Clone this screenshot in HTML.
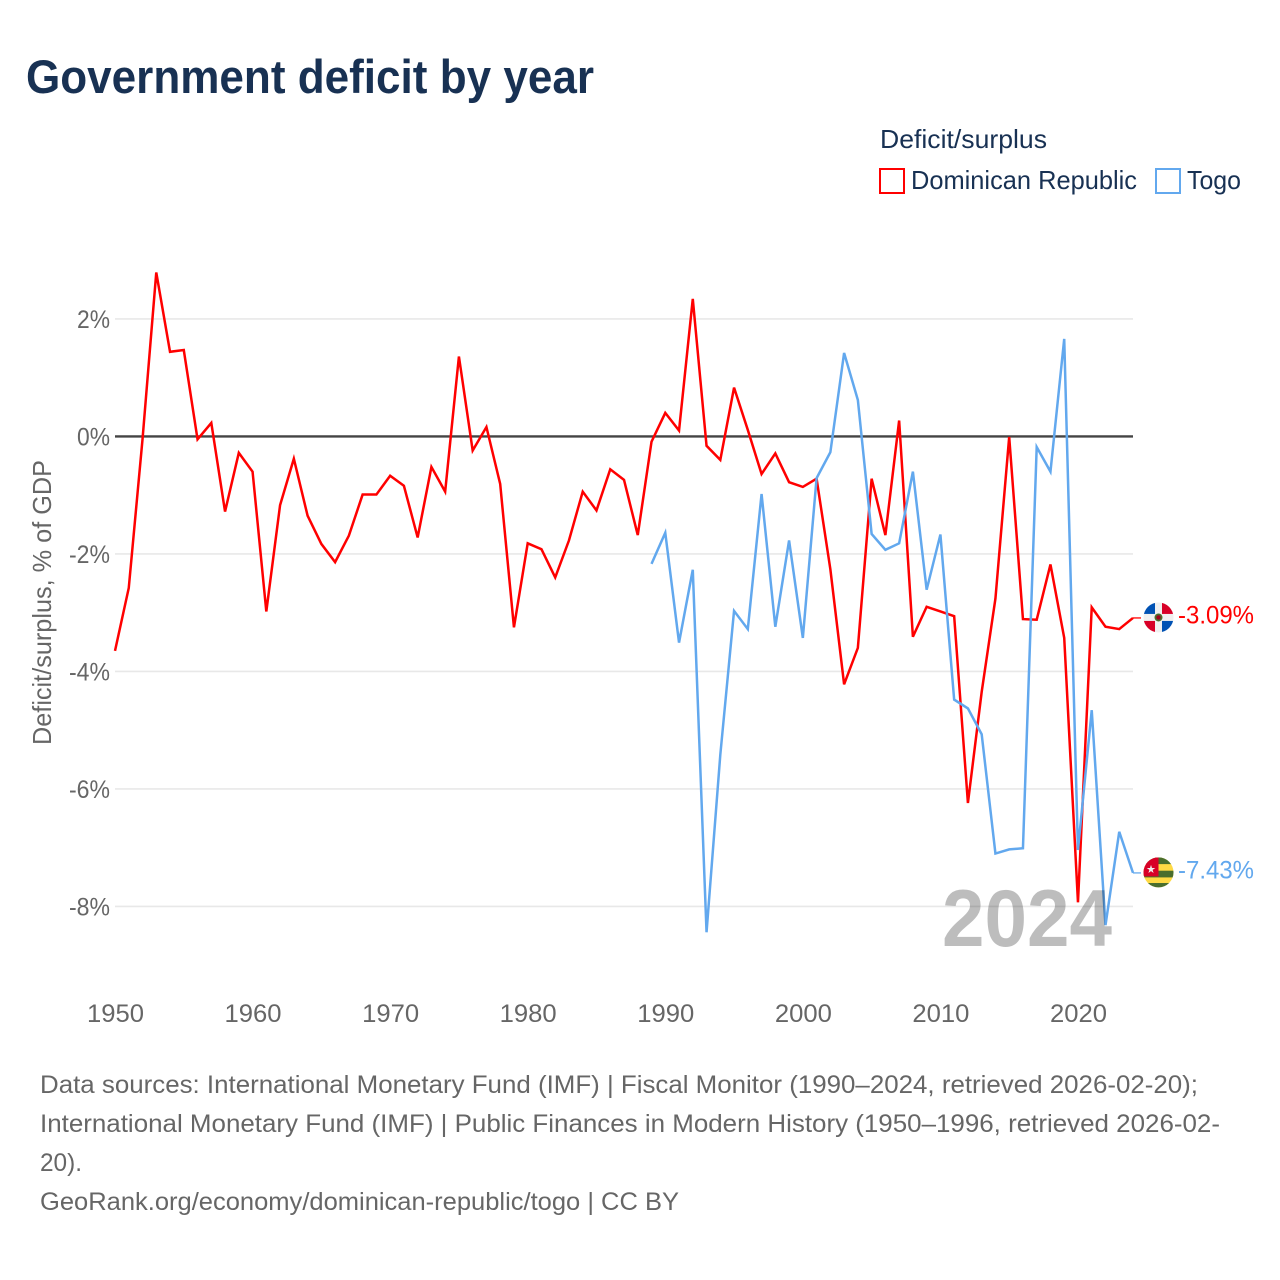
<!DOCTYPE html>
<html lang="en">
<head>
<meta charset="utf-8">
<title>Government deficit by year</title>
<style>
  html, body { margin: 0; padding: 0; background: #fff; }
  svg { display: block; }
  text { font-family: "Liberation Sans", sans-serif; }
</style>
</head>
<body>
<svg id="chart" xmlns="http://www.w3.org/2000/svg" width="1280" height="1280" viewBox="0 0 1280 1280">
  <defs>
    <clipPath id="flag-clip"><circle cx="0" cy="0" r="15"></circle></clipPath>
  </defs>
  <rect x="0" y="0" width="1280" height="1280" fill="#fff"></rect>

  <text x="26" y="93" font-size="47" font-weight="700" fill="#183153" textLength="568" lengthAdjust="spacingAndGlyphs">Government deficit by year</text>

  <g>
    <text x="880" y="148" font-size="26" fill="#183153" textLength="167" lengthAdjust="spacingAndGlyphs">Deficit/surplus</text>
    <g>
      <rect x="880" y="169" width="24" height="24" fill="none" stroke="#ff0000" stroke-width="2"></rect>
      <text x="911" y="189" font-size="26" fill="#183153" textLength="226" lengthAdjust="spacingAndGlyphs">Dominican Republic</text>
    </g>
    <g>
      <rect x="1156" y="169" width="24" height="24" fill="none" stroke="#62a8ee" stroke-width="2"></rect>
      <text x="1187" y="189" font-size="26" fill="#183153" textLength="54" lengthAdjust="spacingAndGlyphs">Togo</text>
    </g>
  </g>

  <text transform="translate(51,745) rotate(-90)" x="0" y="0" font-size="26" fill="#666" textLength="285" lengthAdjust="spacingAndGlyphs">Deficit/surplus, % of GDP</text>

  <g id="y-axis"></g>
  <g id="x-axis"></g>
  <g id="marks"></g>

  <text x="942" y="946" font-size="81" font-weight="700" fill="#000" fill-opacity="0.26" textLength="170" lengthAdjust="spacingAndGlyphs">2024</text>

  <g id="flag-dominican-republic">
    <g clip-path="url(#flag-clip)">
      <rect x="-15" y="-15" width="30" height="30" fill="#f0f0f0"></rect>
      <rect x="-15" y="-15" width="11.5" height="11.5" fill="#0052b4"></rect>
      <rect x="3.5" y="-15" width="11.5" height="11.5" fill="#d80027"></rect>
      <rect x="-15" y="3.5" width="11.5" height="11.5" fill="#d80027"></rect>
      <rect x="3.5" y="3.5" width="11.5" height="11.5" fill="#0052b4"></rect>
      <circle cx="0" cy="0" r="4" fill="#496e2d"></circle>
      <circle cx="0" cy="0" r="2.2" fill="#a2001d"></circle>
    </g>
  </g>

  <g id="flag-togo">
    <g clip-path="url(#flag-clip)">
      <rect x="-15" y="-15" width="30" height="30" fill="#ffda44"></rect>
      <rect x="-15" y="-15" width="30" height="6.7" fill="#496e2d"></rect>
      <rect x="-15" y="-1.7" width="30" height="6.7" fill="#496e2d"></rect>
      <rect x="-15" y="10.6" width="30" height="5" fill="#496e2d"></rect>
      <rect x="-15" y="-15" width="15" height="19" fill="#d80027"></rect>
      <polygon points="-7.5,-7.5 -6.5,-4.4 -3.2,-4.4 -5.9,-2.5 -4.9,0.6 -7.5,-1.3 -10.1,0.6 -9.1,-2.5 -11.8,-4.4 -8.5,-4.4" fill="#f0f0f0"></polygon>
    </g>
  </g>

  <g font-size="25" fill="#666">
    <text x="40" y="1093" textLength="1158" lengthAdjust="spacingAndGlyphs">Data sources: International Monetary Fund (IMF) | Fiscal Monitor (1990–2024, retrieved 2026-02-20);</text>
    <text x="40" y="1132" textLength="1180" lengthAdjust="spacingAndGlyphs">International Monetary Fund (IMF) | Public Finances in Modern History (1950–1996, retrieved 2026-02-</text>
    <text x="40" y="1171" textLength="42" lengthAdjust="spacingAndGlyphs">20).</text>
    <text x="40" y="1210" textLength="639" lengthAdjust="spacingAndGlyphs">GeoRank.org/economy/dominican-republic/togo | CC BY</text>
  </g>
</svg>

<script>
const years = [
  1950,1951,1952,1953,1954,1955,1956,1957,1958,1959,
  1960,1961,1962,1963,1964,1965,1966,1967,1968,1969,
  1970,1971,1972,1973,1974,1975,1976,1977,1978,1979,
  1980,1981,1982,1983,1984,1985,1986,1987,1988,1989,
  1990,1991,1992,1993,1994,1995,1996,1997,1998,1999,
  2000,2001,2002,2003,2004,2005,2006,2007,2008,2009,
  2010,2011,2012,2013,2014,2015,2016,2017,2018,2019,
  2020,2021,2022,2023,2024
];
const dominicanValues = [
  -3.65,-2.58,-0.05,2.79,1.44,1.47,-0.05,0.23,-1.28,-0.28,
  -0.60,-2.98,-1.17,-0.38,-1.35,-1.83,-2.14,-1.69,-0.99,-0.99,
  -0.67,-0.84,-1.72,-0.52,-0.94,1.36,-0.24,0.16,-0.81,-3.25,
  -1.82,-1.92,-2.40,-1.77,-0.94,-1.26,-0.56,-0.74,-1.68,-0.09,
  0.40,0.10,2.34,-0.16,-0.40,0.83,0.11,-0.64,-0.29,-0.78,
  -0.86,-0.72,-2.26,-4.22,-3.60,-0.72,-1.68,0.27,-3.41,-2.90,
  -2.98,-3.06,-6.24,-4.35,-2.76,-0.01,-3.11,-3.12,-2.18,-3.43,
  -7.93,-2.91,-3.24,-3.28,-3.09
];
const togoValues = [
  null,null,null,null,null,null,null,null,null,null,
  null,null,null,null,null,null,null,null,null,null,
  null,null,null,null,null,null,null,null,null,null,
  null,null,null,null,null,null,null,null,null,-2.17,
  -1.64,-3.51,-2.27,-8.44,-5.42,-2.97,-3.28,-0.98,-3.24,-1.77,
  -3.43,-0.71,-0.27,1.42,0.62,-1.66,-1.93,-1.82,-0.60,-2.61,
  -1.67,-4.48,-4.63,-5.07,-7.10,-7.03,-7.01,-0.18,-0.60,1.66,
  -7.04,-4.66,-8.32,-6.73,-7.43
];
const yTickValues = [2, 0, -2, -4, -6, -8];
const yTickLabels = ["2%", "0%", "-2%", "-4%", "-6%", "-8%"];
const xTickValues = [1950, 1960, 1970, 1980, 1990, 2000, 2010, 2020];
const xTickLabels = ["1950", "1960", "1970", "1980", "1990", "2000", "2010", "2020"];

const NS = "http://www.w3.org/2000/svg";
const plotLeft = 115, plotRight = 1133;
function xScale(year) {
  return plotLeft + (year - 1950) * (plotRight - plotLeft) / (2024 - 1950);
}
function yScale(value) {
  return 436.4 - value * 58.75;
}
function make(tag, attrs, parent) {
  const node = document.createElementNS(NS, tag);
  Object.keys(attrs).forEach(function (k) { node.setAttribute(k, attrs[k]); });
  parent.appendChild(node);
  return node;
}

const yAxis = document.getElementById("y-axis");
const xAxis = document.getElementById("x-axis");
const marks = document.getElementById("marks");

yTickValues.forEach(function (v, i) {
  const isZero = v === 0;
  const grid = make("line", {
    x1: plotLeft, x2: plotRight, y1: yScale(v), y2: yScale(v),
    stroke: isZero ? "#444" : "#e8e8e8",
    "stroke-width": isZero ? 2.4 : 1.6
  }, yAxis);
  
  
  const label = make("text", {
    x: 110, y: yScale(v) + 9, "text-anchor": "end", "font-size": 25, fill: "#666",
    textLength: yTickLabels[i].charAt(0) === "-" ? 41 : 33,
    lengthAdjust: "spacingAndGlyphs"
  }, yAxis);
  label.textContent = yTickLabels[i];
  
  
});

xTickValues.forEach(function (year, i) {
  const label = make("text", {
    x: xScale(year) + 0.5, y: 1022, "text-anchor": "middle", "font-size": 25, fill: "#666",
    textLength: 57, lengthAdjust: "spacingAndGlyphs"
  }, xAxis);
  label.textContent = xTickLabels[i];
  
  
});

function pathFor(values) {
  let d = "";
  values.forEach(function (v, i) {
    if (v === null) return;
    d += (d ? "L" : "M") + xScale(years[i]).toFixed(2) + " " + yScale(v).toFixed(2);
  });
  return d;
}

const dominicanLine = make("path", {
  d: pathFor(dominicanValues), fill: "none", stroke: "#ff0000",
  "stroke-width": 2.5, "stroke-linejoin": "miter", "stroke-miterlimit": 4
}, marks);



const togoLine = make("path", {
  d: pathFor(togoValues), fill: "none", stroke: "#62a8ee",
  "stroke-width": 2.5, "stroke-linejoin": "miter", "stroke-miterlimit": 4
}, marks);



const svgRoot = document.getElementById("chart");
const flagX = plotRight + 25.5;
const labelX = 1178;

const dominicanEnd = dominicanValues[dominicanValues.length - 1];
const togoEnd = togoValues[togoValues.length - 1];

const dominicanConnector = make("line", {
  x1: plotRight, x2: plotRight + 8, y1: yScale(dominicanEnd), y2: yScale(dominicanEnd),
  stroke: "#ff0000", "stroke-width": 1.6, "stroke-opacity": 0.8
}, marks);



const togoConnector = make("line", {
  x1: plotRight, x2: plotRight + 8, y1: yScale(togoEnd), y2: yScale(togoEnd),
  stroke: "#62a8ee", "stroke-width": 1.6, "stroke-opacity": 0.8
}, marks);



document.getElementById("flag-dominican-republic").setAttribute("transform", "translate(" + flagX + "," + (yScale(dominicanEnd) - 0.5) + ")");
document.getElementById("flag-togo").setAttribute("transform", "translate(" + flagX + "," + (yScale(togoEnd) - 0.5) + ")");

const dominicanLabel = make("text", {
  x: labelX, y: yScale(dominicanEnd) + 5.5, "font-size": 25, fill: "#ff0000",
  textLength: 76, lengthAdjust: "spacingAndGlyphs"
}, svgRoot);
dominicanLabel.textContent = dominicanEnd.toFixed(2) + "%";



const togoLabel = make("text", {
  x: labelX, y: yScale(togoEnd) + 5.5, "font-size": 25, fill: "#62a8ee",
  textLength: 76, lengthAdjust: "spacingAndGlyphs"
}, svgRoot);
togoLabel.textContent = togoEnd.toFixed(2) + "%";


</script>
</body>
</html>
